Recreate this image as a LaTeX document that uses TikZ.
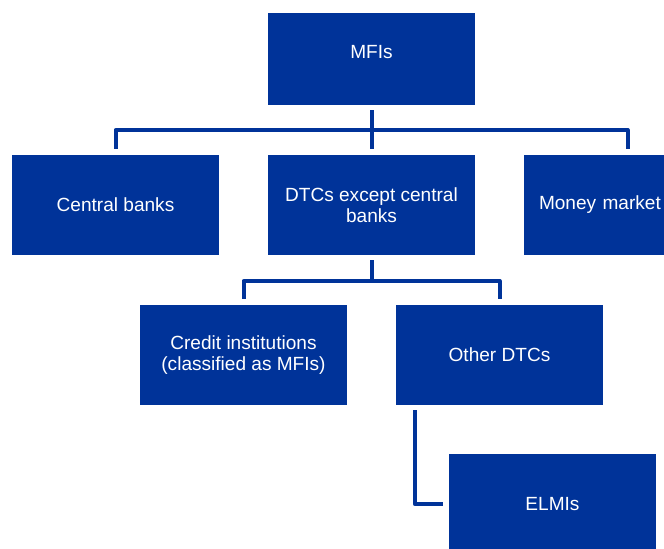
\documentclass[tikz,border=0pt]{standalone}
\usepackage{fontspec}
\setmainfont{Liberation Sans}
\definecolor{ecbblue}{RGB}{0,51,153}
\tikzset{
  box/.style={rectangle,fill=ecbblue,text=white,align=center,
    minimum width=155.25pt,minimum height=75pt,inner sep=0pt,
    font=\fontsize{14.3}{15.75}\selectfont},
  link/.style={draw=ecbblue,line width=3pt,line join=round}
}
\begin{document}
\begin{tikzpicture}[x=0.75pt,y=-0.75pt]
  \useasboundingbox (0,0) rectangle (664,549);
  \clip (0,0) rectangle (664,549);

  \node[box,minimum height=69pt,text depth=10.5pt] (mfi) at (371.5,59) {MFIs};
  \node[box] (cb) at (115.5,205) {Central banks};
  \node[box] (dtc) at (371.5,205) {DTCs except central\\banks};
  \node[box,text width=132.75pt,inner xsep=11.25pt,align=left] (mmf) at (627.5,205) {Money market};
  \node[box] (ci) at (243.5,355) {Credit institutions\\(classified as MFIs)};
  \node[box] (odtc) at (499.5,355) {Other DTCs};
  \node[box] (elmi) at (552.5,504) {ELMIs};

  \coordinate (hub1) at (371.5,130);
  \coordinate (hub2) at (371.5,281);

  \draw[link] ([yshift=-3.75pt]mfi.south) -- ([yshift=4.5pt]dtc.north);
  \draw[link] ([yshift=4.5pt]cb.north) |- (hub1) -| ([yshift=4.5pt]mmf.north);

  \draw[link] ([yshift=-3.75pt]dtc.south) -- (hub2);
  \draw[link] ([yshift=4.5pt]ci.north) |- (hub2) -| ([yshift=4.5pt]odtc.north);

  \draw[link] ([xshift=14.25pt,yshift=-3.75pt]odtc.south west) |- ([xshift=-4.5pt]elmi.west);
\end{tikzpicture}
\end{document}
